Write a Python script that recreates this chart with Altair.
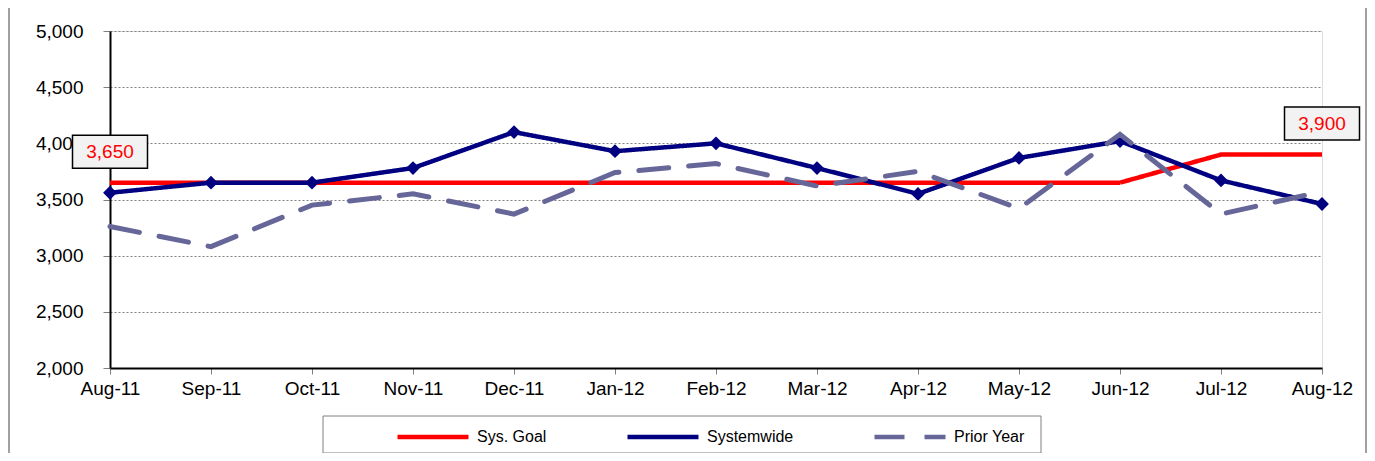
import altair as alt
import pandas as pd

months = ["Aug-11", "Sep-11", "Oct-11", "Nov-11", "Dec-11", "Jan-12", "Feb-12",
          "Mar-12", "Apr-12", "May-12", "Jun-12", "Jul-12", "Aug-12"]
sys_goal = [3650, 3650, 3650, 3650, 3650, 3650, 3650, 3650, 3650, 3650, 3650, 3900, 3900]
systemwide = [3560, 3650, 3650, 3780, 4100, 3930, 4000, 3780, 3550, 3870, 4020, 3670, 3460]
prior_year = [3260, 3080, 3450, 3550, 3370, 3740, 3820, 3620, 3750, 3420, 4080, 3370, 3570]
series_names = ["Sys. Goal", "Systemwide", "Prior Year"]
series_colors = ["#ff0000", "#000080", "#666699"]
label_months = ["Aug-11", "Aug-12"]
label_values = [3650, 3900]
label_texts = ["3,650", "3,900"]

rows = []
for name, vals in zip(series_names, [sys_goal, systemwide, prior_year]):
    for m, v in zip(months, vals):
        rows.append({"month": m, "series": name, "value": v})
df = pd.DataFrame(rows)
labels_df = pd.DataFrame({"month": label_months, "value": label_values, "text": label_texts})

FONT = "Liberation Sans"

x_enc = alt.X("month:N", sort=months, scale=alt.Scale(type="point", padding=0),
              axis=alt.Axis(title=None, labelAngle=0, labelFontSize=19, labelColor="black",
                            labelFont=FONT, tickSize=6, tickColor="#808080",
                            domainColor="black", domainWidth=2, labelPadding=5, grid=False))
y_enc = alt.Y("value:Q", scale=alt.Scale(domain=[2000, 5000], nice=False, zero=False),
              axis=alt.Axis(title=None, values=[2000, 2500, 3000, 3500, 4000, 4500, 5000],
                            format=",d", labelFontSize=19, labelColor="black",
                            labelFont=FONT, tickSize=7, tickColor="#808080",
                            domainColor="black", domainWidth=2, labelPadding=20,
                            grid=True, gridDash=[2, 2], gridColor="#808080", gridWidth=1))

legend_kw = dict(title=None, orient="none", legendX=285, legendY=368,
                 direction="horizontal", columns=3, columnPadding=71,
                 symbolType="stroke", symbolSize=5041, symbolStrokeWidth=4.5,
                 labelFontSize=16, labelFont=FONT, labelColor="black",
                 labelOffset=6, padding=0)
color_enc = alt.Color("series:N", scale=alt.Scale(domain=series_names, range=series_colors),
                      legend=alt.Legend(**legend_kw))
dash_enc = alt.StrokeDash("series:N",
                          scale=alt.Scale(domain=series_names, range=[[1, 0], [1, 0], [30, 20]]),
                          legend=alt.Legend(**legend_kw))

base = alt.Chart(df)

frame = alt.Chart(pd.DataFrame({"a": [0]})).mark_rect(
    fill="white", stroke="#808080", strokeWidth=1
).encode(x=alt.value(213), x2=alt.value(931), y=alt.value(385), y2=alt.value(422))

outer = alt.Chart(pd.DataFrame({"a": [0]})).mark_rule(color="#808080", strokeWidth=1.5).encode(
    x=alt.value(-101), y=alt.value(-23), y2=alt.value(422))
outer_r = alt.Chart(pd.DataFrame({"a": [0]})).mark_rule(color="#808080", strokeWidth=1.5).encode(
    x=alt.value(1256), y=alt.value(-23), y2=alt.value(422))

goal_line = base.transform_filter(alt.datum.series == "Sys. Goal").mark_line(
    strokeWidth=4.5).encode(x=x_enc, y=y_enc, color=color_enc, strokeDash=dash_enc)
sys_line = base.transform_filter(alt.datum.series == "Systemwide").mark_line(
    strokeWidth=4.5).encode(x=x_enc, y=y_enc, color=color_enc, strokeDash=dash_enc)
sys_pts = base.transform_filter(alt.datum.series == "Systemwide").mark_point(
    shape="diamond", size=190, filled=True, color="#000080", opacity=1).encode(x=x_enc, y=y_enc)
prior_line = base.transform_filter(alt.datum.series == "Prior Year").mark_line(
    strokeWidth=5, strokeCap="round").encode(x=x_enc, y=y_enc, color=color_enc, strokeDash=dash_enc)

box = alt.Chart(labels_df).mark_point(
    shape="M-1,-0.44 L1,-0.44 L1,0.44 L-1,0.44 Z", size=5625, filled=False,
    fill="#f2f2f2", fillOpacity=1, stroke="black", strokeWidth=1.5, opacity=1, yOffset=-31
).encode(x=x_enc, y=y_enc)
txt = alt.Chart(labels_df).mark_text(
    color="#ff0000", fontSize=19, font=FONT, yOffset=-31, align="center",
    baseline="middle"
).encode(x=x_enc, y=y_enc, text="text:N")

chart = alt.layer(frame, outer, outer_r, goal_line, sys_line, sys_pts, prior_line, box, txt).properties(
    width=1212, height=337,
    autosize=alt.AutoSizeParams(type="none"),
    padding={"left": 102, "top": 23, "right": 45, "bottom": 85},
).configure_view(stroke="#808080", strokeWidth=1.5).configure(background="white")

chart.save("out.html", embed_options={"renderer": "svg", "actions": False})
